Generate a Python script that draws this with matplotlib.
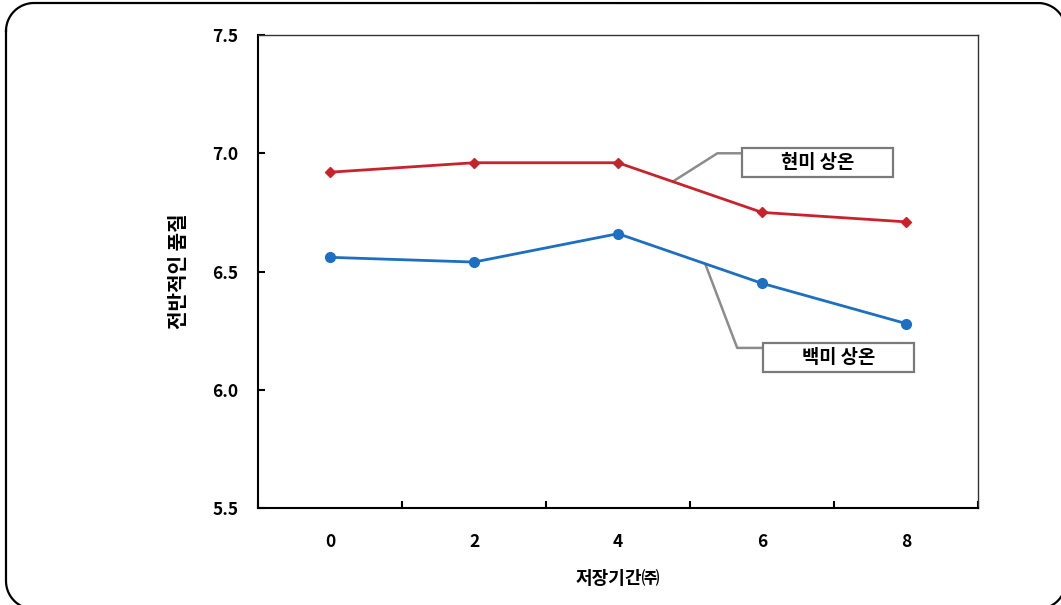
import numpy as np
import matplotlib
matplotlib.use("Agg")
import matplotlib.pyplot as plt
from matplotlib.patches import Rectangle

plt.rcParams["font.family"] = ["Noto Sans CJK KR", "DejaVu Sans"]

weeks = [0, 2, 4, 6, 8]
brown_rice = [6.92, 6.96, 6.96, 6.75, 6.71]
white_rice = [6.56, 6.54, 6.66, 6.45, 6.28]
labels = ["현미 상온", "백미 상온"]

red = "#C8232C"
blue = "#1C6FC1"
grey = "#8C8C8C"

W, H = 1061, 605
fig = plt.figure(figsize=(W / 100, H / 100), dpi=100)

# rounded outer frame in pixel units (y pointing down), built from short
# segments so clipping at the canvas edge stays clean
bg = fig.add_axes([0, 0, 1, 1], zorder=-1)
bg.set_xlim(0, W)
bg.set_ylim(H, 0)
bg.axis("off")
x0, x1, y0, y1, r = 6, 1066, 3, 609, 28
corners = [((x0 + r, y0 + r), np.pi, 1.5 * np.pi),
           ((x1 - r, y0 + r), 1.5 * np.pi, 2 * np.pi),
           ((x1 - r, y1 - r), 0, 0.5 * np.pi),
           ((x0 + r, y1 - r), 0.5 * np.pi, np.pi)]
fx, fy = [], []
for (cx, cy), a0, a1 in corners:
    t = np.linspace(a0, a1, 40)
    fx.extend(cx + r * np.cos(t))
    fy.extend(cy + r * np.sin(t))
fx.append(fx[0])
fy.append(fy[0])
bg.plot(fx, fy, color="black", linewidth=1.6)

ax = fig.add_axes([0.2432, 0.1603, 0.6786, 0.7818])

ax.plot(weeks, brown_rice, color=red, linewidth=2, marker="D",
        markersize=5.5, zorder=3)
ax.plot(weeks, white_rice, color=blue, linewidth=2, marker="o",
        markersize=7, zorder=3)

ax.set_xlim(-1, 9)
ax.set_ylim(5.5, 7.5)

ax.set_xticks(weeks)
ax.set_xticks([-1, 1, 3, 5, 7, 9], minor=True)
ax.tick_params(axis="x", which="major", length=0, pad=18)
ax.tick_params(axis="x", which="minor", direction="in", length=5, width=1.5)
ax.set_yticks([5.5, 6.0, 6.5, 7.0, 7.5])
ax.set_yticklabels(["5.5", "6.0", "6.5", "7.0", "7.5"])
ax.tick_params(axis="y", direction="in", length=5, width=1.5, pad=14)
for lab in ax.get_xticklabels() + ax.get_yticklabels():
    lab.set_fontsize(12.5)
    lab.set_fontweight("bold")

for side in ["left", "bottom"]:
    ax.spines[side].set_linewidth(1.5)
for side in ["top", "right"]:
    ax.spines[side].set_linewidth(1.0)
    ax.spines[side].set_color("#333333")

ax.set_xlabel("저장기간㈜", fontsize=13, fontweight="bold", labelpad=13)
ax.set_ylabel("전반적인 품질", fontsize=14.5, fontweight="bold", labelpad=17)

# leader lines and label boxes
callouts = [
    (brown_rice, 4.76, (5.38, 7.0), (5.72, 6.90), labels[0]),
    (white_rice, 5.21, (5.655, 6.177), (6.01, 6.075), labels[1]),
]
for series, lx, elbow, corner, text in callouts:
    ly = np.interp(lx, weeks, series)
    box_w, box_h = 2.1, 0.124
    ax.plot([lx, elbow[0], corner[0]], [ly, elbow[1], elbow[1]],
            color=grey, linewidth=1.8, zorder=2, solid_capstyle="butt")
    ax.add_patch(Rectangle(corner, box_w, box_h, facecolor="white",
                           edgecolor="#7A7A7A", linewidth=1.6, zorder=4))
    ax.text(corner[0] + box_w / 2, corner[1] + box_h / 2, text,
            ha="center", va="center", fontsize=13.5, fontweight="bold",
            zorder=5)

fig.savefig("out.png", dpi=100)
